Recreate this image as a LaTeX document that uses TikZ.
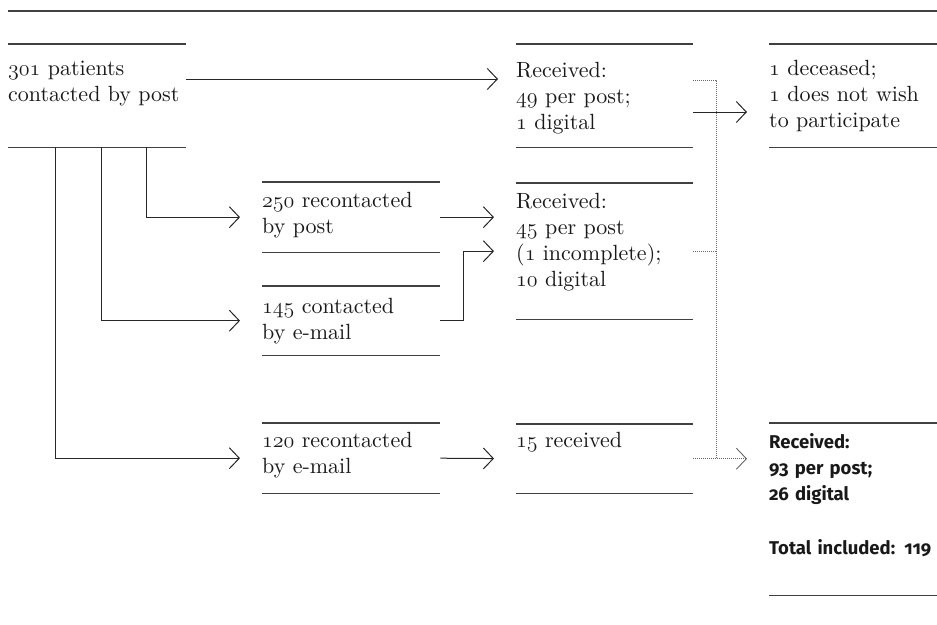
\RequirePackage{fix-cm}
\documentclass[tikz,border=0pt]{standalone}
\usepackage{fontspec}
\setmainfont{lmroman10-regular.otf}
\setsansfont{Fira Sans}[Numbers=OldStyle]
\usepackage{tikz}
\usetikzlibrary{arrows.meta}
\newcommand{\ofig}[1]{{\usefont{OML}{cmm}{m}{it}#1}}
\tikzstyle{cell} = [anchor=north west, inner sep=0pt, align=left, text=black!90, font={\fontsize{22}{26}\selectfont}]
\tikzstyle{rule} = [line width=1.4pt, black!75]
\tikzstyle{arrow} = [line width=1pt, black!85, -{Straight Barb[length=10pt, width=21pt]}, shorten >=22pt]
\tikzstyle{dots} = [line width=0.9pt, black!60, dash pattern=on 1pt off 1pt]

\begin{document}
\begin{tikzpicture}[x=1pt, y=-1pt]
    \useasboundingbox (0,0) rectangle (937,624);
    \draw [rule] (8,11) -- (937,11);
    % first column
    \node (pat) [cell, text width=178pt, text height=31pt, text depth=72pt] at (8,44) {\ofig{301} patients\\contacted by post};
    % second column
    \node (post2) [cell, text width=178pt, text height=25pt, text depth=45pt] at (262,182) {\ofig{250} recontacted\\by post};
    \node (mail) [cell, text width=178pt, text height=27pt, text depth=42pt] at (262,286) {\ofig{145} contacted\\by e-mail};
    \node (mail2) [cell, text width=178pt, text height=24pt, text depth=46pt] at (262,423) {\ofig{120} recontacted\\by e-mail};
    % third column
    \node (rec1) [cell, text width=177pt, text height=33pt, text depth=70pt] at (516,44) {Received:\\\ofig{49} per post;\\\ofig{1} digital};
    \node (rec2) [cell, text width=177pt, text height=25pt, text depth=111pt] at (516,183) {Received:\\\ofig{45} per post\\(\ofig{1} incomplete);\\\ofig{10} digital};
    \node (rec3) [cell, text width=177pt, text height=23pt, text depth=46pt] at (516,424) {\ofig{15} received};
    % last column
    \node (dec) [cell, text width=168pt, text height=31pt, text depth=72pt] at (769,44) {\ofig{1} deceased;\\\ofig{1} does not wish\\to participate};
    \node (final) [cell, text width=168pt, text height=25pt, text depth=147pt, font={\fontsize{18.5}{26}\selectfont\sffamily\bfseries}] at (769,423) {Received:\\93 per post;\\26 digital\\[28pt]Total included: 119};
    \foreach \n in {pat,post2,mail,mail2,rec1,rec2,rec3,dec,final}
        \draw [rule] (\n.north west) -- (\n.north east) (\n.south west) -- (\n.south east);

    \coordinate (p1) at ([yshift=-35pt]pat.north east);
    \coordinate (p2) at ([yshift=-68pt]rec1.north east);
    \coordinate (d1) at ([yshift=-36pt]rec1.north east);
    \coordinate (hub) at ([xshift=23pt]rec3.east);
    \draw [arrow, shorten >=18pt] (p1) -- (p1 -| rec1.west);
    \draw [arrow] (p2) -- (p2 -| dec.west);
    \draw [arrow] ([xshift=138pt]pat.south west) |- (post2.west);
    \draw [arrow] ([xshift=93pt]pat.south west) |- (mail.west);
    \draw [arrow] ([xshift=47pt]pat.south west) |- (mail2.west);
    \draw [arrow] (post2.east) -- (post2.east -| rec2.west);
    \draw [arrow] (mail.east) -- ++(23pt,0) |- (rec2.west);
    \draw [arrow] (mail2.east) -- (rec3.west);
    \draw [dots] (d1) -| (hub);
    \draw [dots] (rec2.east) -- (rec2.east -| hub);
    \draw [dots, -{Straight Barb[length=10pt, width=21pt]}, shorten >=22pt] (rec3.east) -- (rec3.east -| final.west);
\end{tikzpicture}
\end{document}
